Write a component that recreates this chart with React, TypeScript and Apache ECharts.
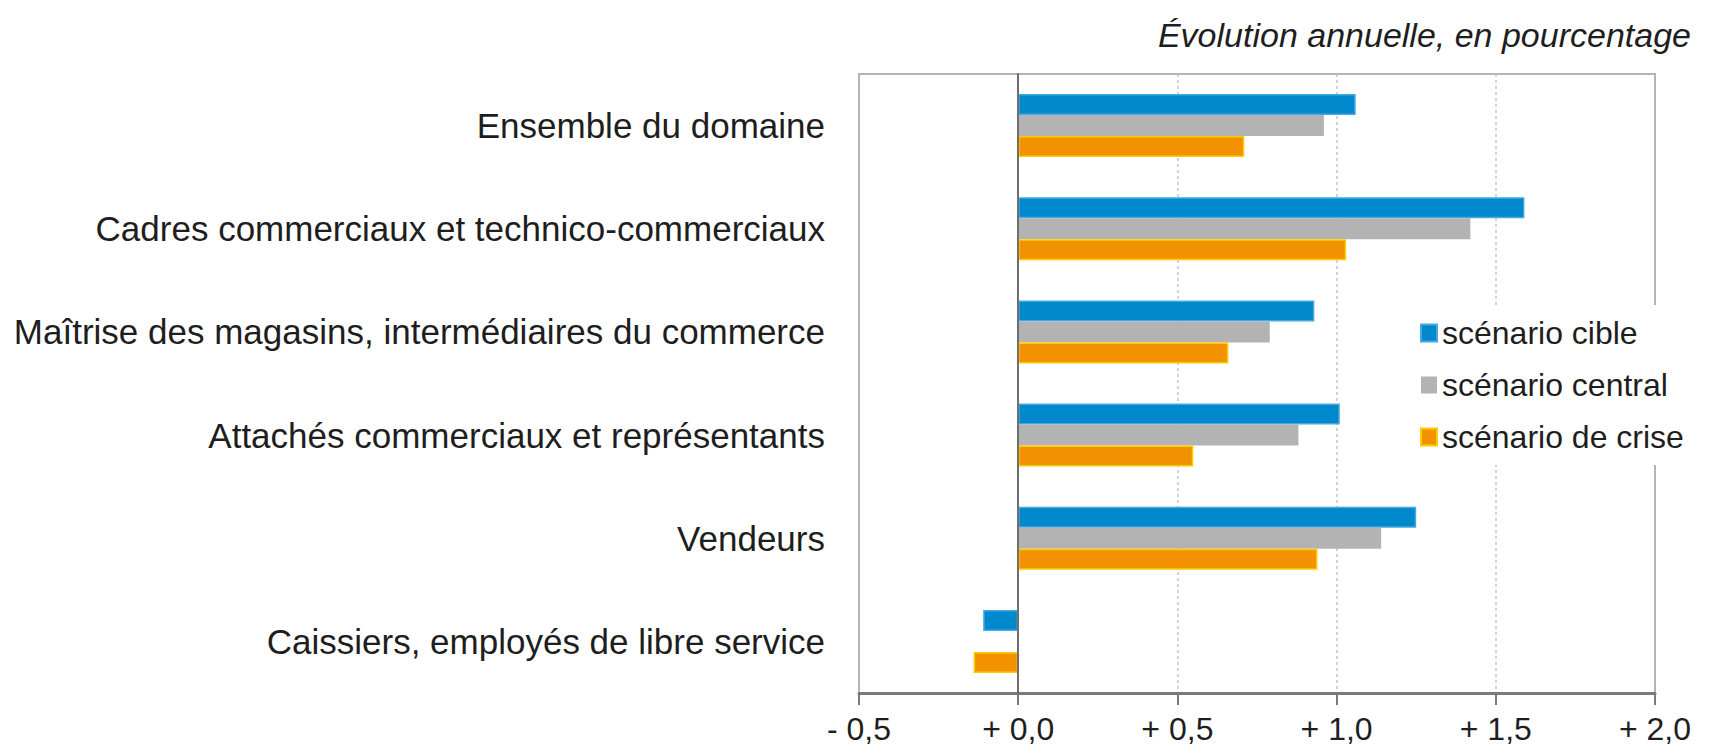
import React, { useEffect, useRef } from "react";
import * as echarts from "echarts";

const categories = [
  "Ensemble du domaine",
  "Cadres commerciaux et technico-commerciaux",
  "Maîtrise des magasins, intermédiaires du commerce",
  "Attachés commerciaux et représentants",
  "Vendeurs",
  "Caissiers, employés de libre service",
];
const seriesNames = ["scénario cible", "scénario central", "scénario de crise"];
const cible = [1.06, 1.59, 0.93, 1.01, 1.25, -0.11];
const central = [0.96, 1.42, 0.79, 0.88, 1.14, 0];
const crise = [0.71, 1.03, 0.66, 0.55, 0.94, -0.14];
const titleText = "Évolution annuelle, en pourcentage";

const FONT = "'Liberation Sans', Arial, sans-serif";

export default function App() {
  const ref = useRef<HTMLDivElement>(null);
  useEffect(() => {
    document.body.style.margin = "0";
    if (!ref.current) return;
    const chart = echarts.init(ref.current, undefined, { renderer: "svg" });
    const fmt = (v: number) =>
      (v < 0 ? "- " : "+ ") + Math.abs(v).toFixed(1).replace(".", ",");
    chart.setOption({
      animation: false,
      backgroundColor: "#ffffff",
      textStyle: { fontFamily: FONT },
      graphic: [
        {
          type: "text",
          right: 44,
          top: 18,
          style: {
            text: titleText,
            font: `italic 34px ${FONT}`,
            fill: "#1e1e1e",
          },
        },
      ],
      legend: {
        orient: "vertical",
        left: 1408,
        top: 305,
        padding: [12, 10, 12, 12],
        itemGap: 20,
        itemWidth: 16,
        itemHeight: 17,
        backgroundColor: "#ffffff",
        icon: "rect",
        textStyle: { fontSize: 32, color: "#1e1e1e", fontFamily: FONT },
        data: seriesNames,
        z: 10,
      },
      grid: {
        left: 859,
        right: 80,
        top: 74,
        bottom: 54,
        containLabel: false,
        outerBoundsMode: "none",
        show: true,
        borderColor: "#b4b4b4",
        borderWidth: 2,
      },
      xAxis: {
        type: "value",
        min: -0.5,
        max: 2,
        interval: 0.5,
        axisLine: { show: true, lineStyle: { color: "#7a7a7a", width: 3 } },
        axisTick: { show: true, length: 12, lineStyle: { color: "#7a7a7a", width: 2 } },
        axisLabel: {
          formatter: fmt,
          fontSize: 32,
          color: "#1e1e1e",
          margin: 20,
          fontFamily: FONT,
        },
        splitLine: {
          show: true,
          showMinLine: false,
          showMaxLine: false,
          lineStyle: { color: "#c4c4c4", type: [3, 3], width: 1.5 },
        },
      },
      yAxis: {
        type: "category",
        inverse: true,
        data: categories,
        z: 5,
        axisLine: { show: true, onZero: true, lineStyle: { color: "#6e6e6e", width: 2 } },
        axisTick: { show: false },
        axisLabel: {
          fontSize: 35,
          color: "#1e1e1e",
          margin: 34,
          fontFamily: FONT,
          padding: [4, 0, 0, 0],
        },
      },
      series: [
        {
          name: seriesNames[0],
          type: "bar",
          data: cible,
          barWidth: 21,
          barGap: "0%",
          itemStyle: { color: "#0088cc", borderColor: "#46a8e0", borderWidth: 1.5 },
        },
        {
          name: seriesNames[1],
          type: "bar",
          data: central,
          barWidth: 21,
          barGap: "0%",
          itemStyle: { color: "#b3b3b3" },
        },
        {
          name: seriesNames[2],
          type: "bar",
          data: crise,
          barWidth: 21,
          barGap: "0%",
          itemStyle: { color: "#f39200", borderColor: "#ffcc00", borderWidth: 1.5 },
        },
      ],
    });
    return () => chart.dispose();
  }, []);
  return <div ref={ref} style={{ width: 1735, height: 747 }} />;
}
